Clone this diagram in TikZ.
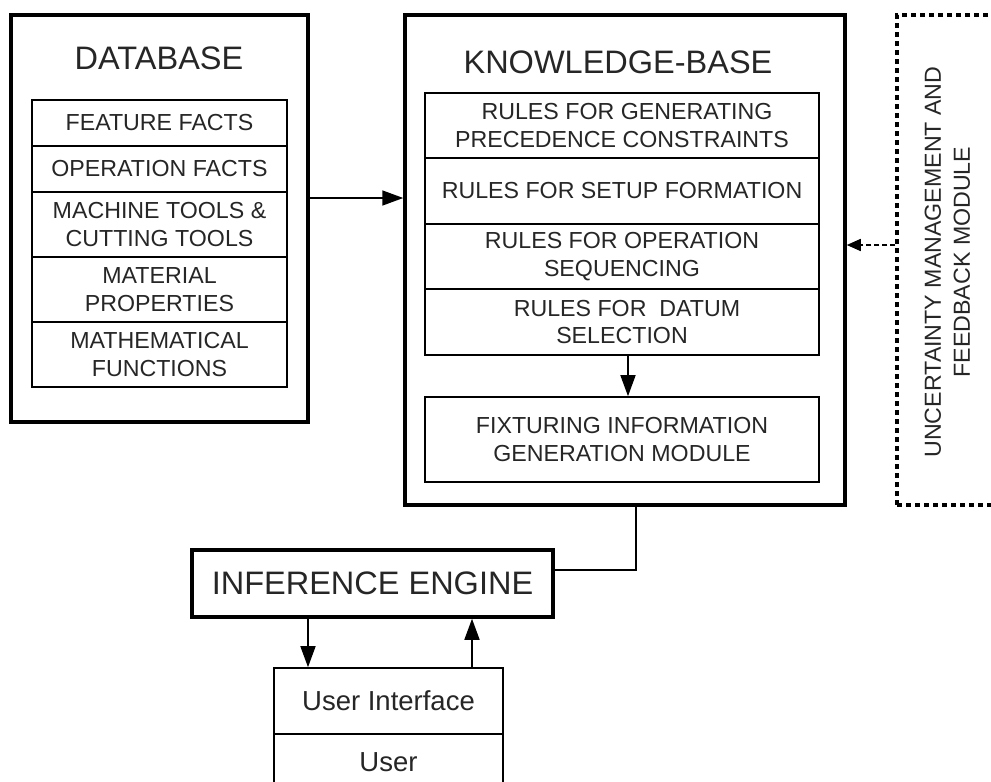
\documentclass[tikz,border=0pt]{standalone}
\usepackage{fontspec}
\setmainfont{Liberation Sans}
\usetikzlibrary{arrows.meta,calc}
\begin{document}
\begin{tikzpicture}[x=1pt,y=-1pt,
  txt/.style={text=black!85},
  titlefont/.style={font=\fontsize{32.5}{38}\selectfont, txt},
  rowfont/.style={font=\fontsize{23.2}{27.5}\selectfont, txt, align=center},
  outerbox/.style={draw, line width=3.5pt, inner sep=0pt},
  rowbox/.style={draw, line width=1.6pt, inner sep=0pt, rowfont},
  conn/.style={line width=1.6pt},
  arr/.style={conn, -{Triangle[width=15pt,length=21pt]}},
  dasharr/.style={line width=1.6pt, dash pattern=on 5pt off 3pt, -{Triangle[width=12pt,length=14pt]}},
]
\useasboundingbox (0,0) rectangle (991,782);
\clip (0,0) rectangle (991,782);
\fill[white] (0,0) rectangle (991,782);

% DATABASE
\node[outerbox, minimum width=297pt, minimum height=407pt] (db) at (159.5,218.5) {};
\node[titlefont] (dbt) at (159,58) {DATABASE};
\node[rowbox, minimum width=255pt, minimum height=46pt] (d1) at (159.5,123) {FEATURE FACTS};
\node[rowbox, minimum width=255pt, minimum height=46pt] (d2) at (159.5,169) {OPERATION FACTS};
\node[rowbox, minimum width=255pt, minimum height=65pt] (d3) at (159.5,224.5) {MACHINE TOOLS \&\\CUTTING TOOLS};
\node[rowbox, minimum width=255pt, minimum height=65pt] (d4) at (159.5,289.5) {MATERIAL\\PROPERTIES};
\node[rowbox, minimum width=255pt, minimum height=65pt] (d5) at (159.5,354.5) {MATHEMATICAL\\FUNCTIONS};

% KNOWLEDGE-BASE
\node[outerbox, minimum width=440pt, minimum height=490pt] (kb) at (625,260) {};
\node[titlefont] (kbt) at (618,62) {KNOWLEDGE-BASE};
\node[rowbox, minimum width=394pt, minimum height=65pt] (k1) at (622,125.5) {\hspace*{10pt}RULES FOR GENERATING\\PRECEDENCE CONSTRAINTS};
\node[rowbox, minimum width=394pt, minimum height=66pt] (k2) at (622,191) {RULES FOR SETUP FORMATION};
\node[rowbox, minimum width=394pt, minimum height=65pt] (k3) at (622,256.5) {RULES FOR OPERATION\\SEQUENCING};
\node[rowbox, minimum width=394pt, minimum height=66pt] (k4) at (622,322) {\hspace*{10pt}RULES FOR\ \ DATUM\\SELECTION};
\node[rowbox, minimum width=394pt, minimum height=85pt] (fix) at (622,439.5) {FIXTURING INFORMATION\\GENERATION MODULE};

% UNCERTAINTY module (dashed, runs past the right edge)
\node[draw, line width=3.2pt, dash pattern=on 5pt off 4pt, minimum width=120pt, minimum height=490pt, inner sep=0pt] (um) at (957,260) {};
\node[rowfont, rotate=90, font=\fontsize{23.2}{29}\selectfont] (umt) at (947.5,262) {UNCERTAINTY MANAGEMENT AND\\FEEDBACK MODULE};

% INFERENCE ENGINE
\node[outerbox, minimum width=361pt, minimum height=67pt, titlefont] (ie) at (372.5,583.5) {INFERENCE ENGINE};

% User interface / User
\node[rowbox, font=\fontsize{27.5}{31}\selectfont, minimum width=229pt, minimum height=66pt] (ui) at (388.5,701) {User Interface};
\node[rowbox, font=\fontsize{27.5}{31}\selectfont, minimum width=229pt, minimum height=66pt] (user) at (388.5,767) {\raisebox{9pt}{User}};

% connectors
\coordinate (ydb) at (0,198);
\draw[arr] (db.east |- ydb) -- (kb.west |- ydb);
\coordinate (xk) at (628,0);
\draw[arr] (k4.south -| xk) -- (fix.north -| xk);
\coordinate (yu) at (0,245);
\draw[dasharr] (um.west |- yu) -- (kb.east |- yu);
\coordinate (c1) at (636,570);
\draw[conn] (kb.south -| c1) -- (c1) -- (ie.east |- c1);
\coordinate (xa) at (308,0);
\coordinate (xb) at (472,0);
\draw[arr] (ie.south -| xa) -- (ui.north -| xa);
\draw[arr] (ui.north -| xb) -- (ie.south -| xb);
\end{tikzpicture}
\end{document}
